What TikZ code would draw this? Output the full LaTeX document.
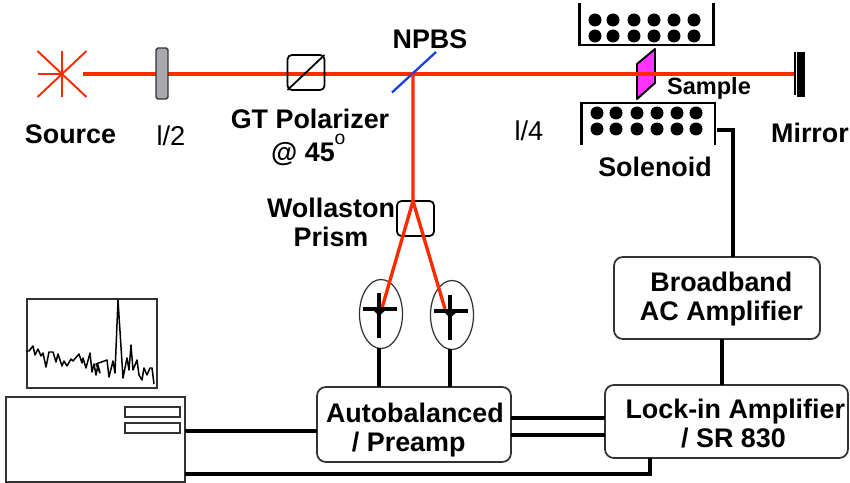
\documentclass[tikz,border=0pt]{standalone}
\usepackage{fontspec}
\setmainfont{Liberation Sans}
\usetikzlibrary{shapes.geometric}
\definecolor{beamred}{HTML}{FF2A00}
\definecolor{npbsblue}{HTML}{1A3FE0}
\definecolor{plategrey}{HTML}{A8A8AE}
\definecolor{samplepink}{HTML}{FF33FF}
\definecolor{boxgrey}{HTML}{333333}
\tikzset{
  lab/.style={font=\bfseries\fontsize{15.3}{16.5}\selectfont,align=center,inner sep=0pt},
  thinlab/.style={font=\fontsize{15.5}{17}\selectfont,inner sep=0pt},
  ampbox/.style={lab,draw=boxgrey,line width=1pt,rounded corners=5pt,outer sep=0pt},
  opticbox/.style={draw=black,line width=1pt,rounded corners=2.5pt,inner sep=0pt,outer sep=0pt},
  beam/.style={beamred,line width=1.9pt},
  wire/.style={black,line width=1.9pt},
  pdring/.style={ellipse,draw=boxgrey,line width=0.7pt,inner sep=0pt,outer sep=0pt,
    minimum width=0.86cm,minimum height=1.38cm},
  frame/.style={draw=boxgrey,line width=1pt,inner sep=0pt,outer sep=0pt}
}
\begin{document}
\begin{tikzpicture}[x=0.02cm,y=-0.02cm]
  \useasboundingbox (0,0) rectangle (850,483);

  % --- levels and columns of the wires
  \coordinate (lvlpc) at (0,431);
  \coordinate (lvlupper) at (0,418);
  \coordinate (lvllower) at (0,435);
  \coordinate (lvlbottom) at (0,474);
  \coordinate (lvlcoil) at (0,130);
  \coordinate (colcoil) at (733,0);
  \coordinate (colbottom) at (650,0);
  \coordinate (colleft) at (379,0);
  \coordinate (colright) at (450,0);
  \coordinate (colbroad) at (722,0);

  % --- the optical table
  \coordinate (beamstart) at (83,74);
  \coordinate (split) at (413,74);
  \fill[samplepink,draw=black,line width=1.1pt,line join=round]
    (655,49) -- (637,64) -- (637,99) -- (655,83) -- cycle;
  \node[pdring] (pdleft) at (381,314) {};
  \node[pdring] (pdright) at (452,315) {};
  \node[opticbox,minimum width=0.74cm,minimum height=0.70cm] (wollaston) at (415.5,218.5) {};

  \coordinate (mirrorface) at (795,74);
  \draw[beam] (beamstart) -- (mirrorface);
  \draw[npbsblue,line width=1.3pt] (392,92.5) -- (436,52);
  \draw[beam] (split) -- (split |- wollaston.north) -- (382,308);
  \draw[beam] (split |- wollaston.north) -- (445,309);

  % --- source, plate, polarizer
  \coordinate (starmid) at (62,74);
  \foreach \dx/\dy in {-24.5/-23,24.5/-23,-24.5/23,24.5/23,0/-23,0/23,-24.5/0}
    \draw[beamred,line width=1.1pt] (starmid) -- ++(\dx,\dy);
  \node[opticbox,fill=plategrey,draw=boxgrey,line width=0.8pt,rounded corners=1pt,
    minimum width=0.24cm,minimum height=1.02cm] (halfplate) at (162,73.5) {};
  \node[opticbox,minimum width=0.74cm,minimum height=0.70cm] (polarizer) at (306,72.5) {};
  \draw[black,line width=1pt] (polarizer.south west) -- (polarizer.north east);

  % --- solenoid and sample
  \draw[black,line width=1.4pt] (579.5,3) -- (579.5,45) -- (713.5,45) -- (713.5,3);
  \draw[black,line width=1.4pt] (581.5,145) -- (581.5,103) -- (715,103) -- (715,145);
  \foreach \x in {595,613,634,654,674,694}
    \foreach \y in {20,36}
      \fill (\x,\y) circle (0.13cm);
  \foreach \x in {597,616,637,657,677,696}
    \foreach \y in {113,129}
      \fill (\x,\y) circle (0.13cm);

  % --- mirror
  \fill[black] (797,52) rectangle (805,97);
  \draw[black,line width=0.7pt] (795,52) -- (795,95);

  % --- detectors
  \foreach \pd/\hx/\hy in {pdleft/380/309,pdright/451/311}{
    \draw[black,line width=2pt] (\hx-17,\hy) -- (\hx+17,\hy);
    \draw[black,line width=2pt] (\hx-1,\hy-16) -- (\hx-1,\hy+29);
    \fill[black] (\hx-8,\hy) -- (\hx+7,\hy) -- (\hx-1,\hy+7) -- cycle;
  }

  % --- electronics
  \node[ampbox,minimum width=3.88cm,minimum height=1.50cm] (autob) at (414,424.5)
    {\rule{0pt}{17pt}\hspace*{1pt}Autobalanced\\/ Preamp\hspace*{6pt}};
  \node[ampbox,minimum width=4.86cm,minimum height=1.46cm] (lockin) at (726.5,421.5)
    {\rule{0pt}{13.6pt}\hspace*{10pt}Lock-in Amplifier\\\hspace*{8pt}/ SR 830};
  \node[ampbox,minimum width=4.12cm,minimum height=1.64cm] (broadband) at (717,298)
    {\rule{0pt}{12.6pt}\hspace*{5pt}Broadband\\\hspace*{5pt}AC Amplifier};

  % --- computer
  \node[frame,minimum width=3.58cm,minimum height=1.70cm] (pc) at (95.5,439.5) {};
  \node[frame,minimum width=2.60cm,minimum height=1.78cm] (screen) at (92,343.5) {};
  \node[frame,minimum width=1.10cm,minimum height=0.20cm] (slotupper) at (152.5,412) {};
  \node[frame,minimum width=1.10cm,minimum height=0.20cm] (slotlower) at (152.5,428) {};
  \draw[black,line width=0.85pt,line join=round]
    (26,351) -- (29,351) -- (33,346) -- (35,355) -- (38,349) -- (41,356) -- (43,353)
    -- (46,367) -- (49,352) -- (53,352) -- (56,362) -- (58,354) -- (62,366) -- (64,361)
    -- (67,366) -- (71,359) -- (73,361) -- (79,354) -- (82,363) -- (83,358) -- (86,368)
    -- (90,353) -- (92,372) -- (94,364) -- (96,375) -- (98,365) -- (100,373) -- (96,364)
    -- (107,360) -- (109,377) -- (113,361) -- (115,373) -- (118,300) -- (123,378)
    -- (127,358) -- (129,370) -- (131,345) -- (133,370) -- (137,360) -- (139,375)
    -- (142,380) -- (144,368) -- (147,375) -- (150,368) -- (152,368) -- (154,384);

  % --- wires
  \draw[wire] (colleft |- pdleft.south) -- (colleft |- autob.north);
  \draw[wire] (colright |- pdright.south) -- (colright |- autob.north);
  \draw[wire] (pc.east |- lvlpc) -- (autob.west |- lvlpc);
  \draw[wire] (autob.east |- lvlupper) -- (lockin.west |- lvlupper);
  \draw[wire] (autob.east |- lvllower) -- (lockin.west |- lvllower);
  \draw[wire] (pc.east |- lvlbottom) -- (colbottom |- lvlbottom) -- (colbottom |- lockin.south);
  \draw[wire] (colbroad |- broadband.south) -- (colbroad |- lockin.north);
  \draw[wire] (717,130) -- (colcoil |- lvlcoil) -- (colcoil |- broadband.north);

  % --- labels
  \node[lab] (sourcelab) at (70.5,134) {Source};
  \node[thinlab] (halflab) at (171,136) {l/2};
  \node[lab] (gtlab) at (310,119) {GT Polarizer};
  \node[lab] (anglelab) at (303,154) {@ 45};
  \node[thinlab,font=\fontsize{11}{12}\selectfont] (degreelab) at (340,139) {o};
  \node[lab] (npbslab) at (430,39) {NPBS};
  \node[thinlab] (quarterlab) at (529,131) {l/4};
  \node[lab,font=\bfseries\fontsize{13.4}{15}\selectfont] (samplelab) at (709,88) {Sample};
  \node[lab] (solenoidlab) at (655,167) {Solenoid};
  \node[lab] (mirrorlab) at (810,133) {Mirror};
  \node[lab] (wollastonlab) at (331,222.5) {Wollaston\\Prism};
\end{tikzpicture}
\end{document}
